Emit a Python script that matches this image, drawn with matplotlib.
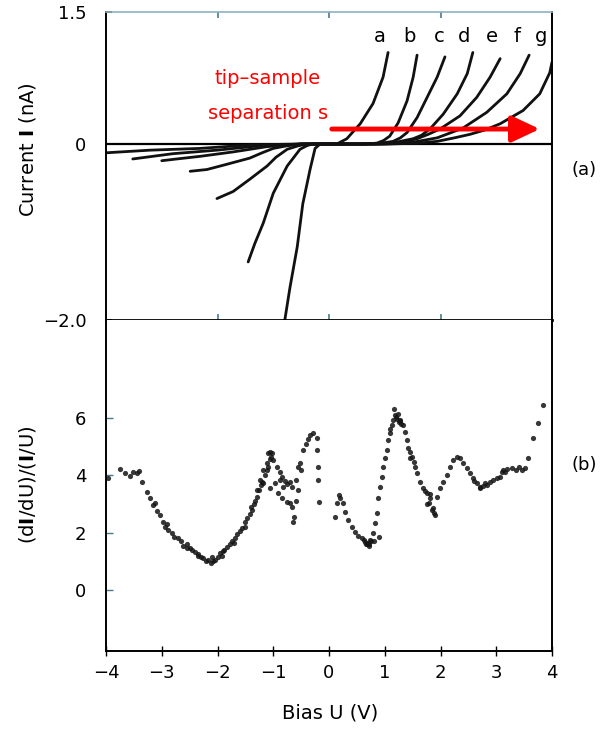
import matplotlib.pyplot as plt

# I-V curves a..g, tip-sample separation increasing from a to g
curve_labels = ['a', 'b', 'c', 'd', 'e', 'f', 'g']
curve_v = [
    [-0.80, -0.79, -0.70, -0.57, -0.47, -0.34, -0.25, -0.16, 0.14, 0.32, 0.56, 0.79, 0.97, 1.06],
    [-1.45, -1.33, -1.18, -1.00, -0.75, -0.52, -0.40, -0.30, 0.40, 0.65, 0.86, 0.98, 1.09, 1.24,
     1.40, 1.51, 1.58],
    [-2.01, -1.72, -1.42, -1.11, -0.95, -0.75, -0.55, -0.40, 0.60, 0.95, 1.15, 1.28, 1.40, 1.58,
     1.76, 1.94, 2.08],
    [-2.49, -2.19, -1.83, -1.42, -1.20, -1.00, -0.75, -0.50, 0.80, 1.20, 1.51, 1.66, 1.81, 2.05,
     2.30, 2.48, 2.58],
    [-3.00, -2.73, -2.31, -1.72, -1.11, -0.50, 0.90, 1.30, 1.58, 1.78, 1.99, 2.35, 2.65, 2.89,
     3.07],
    [-3.52, -2.80, -2.01, -1.24, -0.50, 1.00, 1.50, 1.94, 2.15, 2.40, 2.83, 3.19, 3.43, 3.59],
    [-4.00, -3.21, -2.31, -1.42, -0.50, 1.10, 1.60, 1.94, 2.25, 2.53, 2.80, 3.07, 3.48, 3.78,
     3.96, 4.00],
]
curve_i = [
    [-2.05, -1.99, -1.63, -1.17, -0.68, -0.29, -0.05, 0.00, 0.00, 0.06, 0.23, 0.46, 0.76, 1.04],
    [-1.34, -1.13, -0.90, -0.56, -0.25, -0.06, -0.02, 0.00, 0.00, 0.00, 0.01, 0.04, 0.09, 0.24,
     0.49, 0.76, 1.01],
    [-0.62, -0.54, -0.40, -0.25, -0.15, -0.06, -0.02, 0.00, 0.00, 0.01, 0.03, 0.07, 0.13, 0.30,
     0.53, 0.76, 0.99],
    [-0.31, -0.29, -0.23, -0.16, -0.10, -0.05, -0.02, 0.00, 0.00, 0.02, 0.06, 0.10, 0.17, 0.34,
     0.57, 0.80, 1.04],
    [-0.19, -0.17, -0.14, -0.09, -0.03, 0.00, 0.00, 0.02, 0.06, 0.11, 0.17, 0.32, 0.53, 0.76,
     0.97],
    [-0.17, -0.11, -0.07, -0.02, 0.00, 0.00, 0.02, 0.07, 0.12, 0.18, 0.36, 0.57, 0.80, 1.01],
    [-0.10, -0.07, -0.05, -0.01, 0.00, 0.00, 0.01, 0.03, 0.07, 0.11, 0.16, 0.23, 0.38, 0.57,
     0.81, 0.93],
]
label_v = [0.91, 1.44, 1.97, 2.43, 2.92, 3.37, 3.80]

# normalized conductance (dI/dU)/(I/U) vs bias
bias_u = [
    -3.96, -3.75, -3.66, -3.57, -3.52, -3.44, -3.40, -3.35,
    -3.26, -3.21, -3.16, -3.13, -3.08, -3.03, -2.98, -2.94, -2.90, -2.88,
    -2.82, -2.78, -2.71, -2.66, -2.62, -2.55, -2.50, -2.45, -2.40, -2.35,
    -2.30, -2.26, -2.20, -2.17, -2.12, -2.08, -2.04, -2.00, -1.96, -1.92,
    -1.88, -1.83, -1.78, -1.74, -1.69, -1.65, -1.60, -1.56, -1.51, -1.47,
    -1.42, -1.38, -1.35, -1.32, -1.29, -1.25, -1.22, -1.20, -1.15, -1.12,
    -1.09, -1.06, -1.04, -1.02,
    -2.10, -1.90, -1.70, -1.50, -1.40, -1.30, -2.35, -2.55,
    -1.18, -1.11, -1.09, -1.06, -1.00, -0.93, -0.88, -0.84, -0.79, -0.75,
    -0.70, -0.66, -0.65, -0.62,
    -1.24, -1.18, -1.06, -0.97, -0.91, -0.84, -0.75, -0.70, -0.66,
    -0.60, -0.55, -0.52, -0.50, -0.47, -0.42, -0.38, -0.34, -0.29, -0.22,
    -0.22, -0.20, -0.20, -0.18,
    -0.88, -0.82, -0.60, -0.56,
    0.11, 0.14, 0.18, 0.20, 0.25, 0.29, 0.34, 0.41, 0.47, 0.52,
    0.59, 0.65, 0.68, 0.70, 0.72, 0.74, 0.76, 0.79, 0.83, 0.86,
    0.88, 0.91, 0.95, 0.97, 1.00, 1.04, 1.06, 1.09, 1.13, 1.15,
    1.17, 1.20, 1.22, 1.25, 1.27, 1.30, 1.33, 1.36, 1.40, 1.42,
    1.46, 1.49, 1.54, 1.58, 1.63, 1.69, 1.72, 1.76, 1.81, 1.85,
    1.88, 1.90, 1.94, 1.99, 2.05, 2.12, 2.17, 2.22, 2.30, 2.35,
    2.40, 2.48, 2.53, 2.58, 2.65, 2.71, 2.77, 2.83, 2.89, 2.95,
    3.01, 3.06, 3.12, 3.20, 3.28, 3.36, 3.46, 3.52, 3.57, 3.66,
    3.75, 3.84,
    0.80, 0.90, 1.10, 1.18, 1.45, 1.75, 1.80, 2.70, 3.10,
    0.62, 0.66, 0.72, 1.23, 1.28, 1.52, 1.82, 1.87, 2.60, 2.80, 3.15, 3.40,
]
ratio = [
    3.90, 4.22, 4.08, 3.97, 4.11, 4.08, 4.15, 3.76,
    3.41, 3.21, 2.96, 3.05, 2.75, 2.61, 2.37, 2.20, 2.30, 2.10,
    1.99, 1.85, 1.81, 1.70, 1.55, 1.60, 1.45, 1.40, 1.32, 1.25,
    1.15, 1.11, 1.00, 1.05, 0.95, 1.00, 1.05, 1.15, 1.29, 1.20,
    1.40, 1.50, 1.60, 1.70, 1.81, 1.95, 2.05, 2.16, 2.37, 2.50,
    2.65, 2.79, 3.00, 3.10, 3.24, 3.50, 3.65, 3.76, 4.01, 4.20,
    4.29, 4.55, 4.63, 4.77,
    1.15, 1.35, 1.65, 2.20, 2.90, 3.50, 1.20, 1.45,
    4.18, 4.42, 4.77, 4.81, 4.53, 4.29, 4.11, 3.95, 3.80, 3.70,
    3.75, 3.60, 2.37, 2.55,
    3.83, 3.73, 3.55, 3.73, 3.38, 3.21, 3.07, 3.03, 2.90,
    3.10, 3.48, 4.42, 4.18, 4.88, 5.10, 5.25, 5.40, 5.47, 5.30,
    4.88, 4.29, 3.83, 3.07,
    3.83, 3.59, 3.83, 4.30,
    2.54, 3.03, 3.31, 3.20, 3.03, 2.72, 2.44, 2.20, 2.02, 1.90,
    1.81, 1.67, 1.60, 1.64, 1.55, 1.74, 1.70, 1.99, 2.33, 2.68,
    3.21, 3.59, 3.94, 4.29, 4.60, 4.88, 5.23, 5.47, 5.75, 5.92,
    6.31, 6.03, 5.95, 5.85, 5.92, 5.80, 5.75, 5.51, 5.23, 4.95,
    4.80, 4.63, 4.29, 4.08, 3.76, 3.55, 3.45, 3.38, 3.21, 2.79,
    2.70, 2.61, 3.24, 3.55, 3.76, 4.01, 4.29, 4.53, 4.63, 4.60,
    4.42, 4.25, 4.08, 3.90, 3.73, 3.59, 3.62, 3.66, 3.76, 3.85,
    3.90, 3.95, 4.18, 4.22, 4.25, 4.20, 4.18, 4.25, 4.60, 5.30,
    5.82, 6.45,
    1.70, 1.85, 5.60, 6.10, 4.60, 3.00, 3.05, 3.55, 4.10,
    1.75, 1.60, 1.62, 6.15, 5.90, 4.45, 3.35, 2.85, 3.80, 3.72, 4.12, 4.30,
]

plt.rcParams['font.family'] = 'DejaVu Sans'
plt.rcParams['mathtext.fontset'] = 'dejavusans'

fig = plt.figure(figsize=(6.16, 7.29), dpi=100)

# ---- panel (a): current vs bias ----
ax1 = fig.add_axes([106 / 616, 1 - 320 / 729, 446 / 616, 308 / 729])
ax1.axhline(0, color='black', lw=1.6, zorder=1)
for v, i in zip(curve_v, curve_i):
    ax1.plot(v, i, color='#111111', lw=2.0, solid_capstyle='round',
             solid_joinstyle='round', zorder=2)
for lab, v in zip(curve_labels, label_v):
    ax1.text(v, 1.22, lab, fontsize=14, ha='center', va='center')

ax1.text(-1.1, 0.74, 'tip–sample', color='red', fontsize=14, ha='center', va='center')
ax1.text(-1.1, 0.35, 'separation s', color='red', fontsize=14, ha='center', va='center')
ax1.annotate('', xy=(3.78, 0.17), xytext=(0.05, 0.17),
             arrowprops=dict(arrowstyle='-|>,head_length=1.7,head_width=0.8',
                             color='red', lw=3.5, shrinkA=0, shrinkB=0))

ax1.set_xlim(-4, 4)
ax1.set_ylim(-2.0, 1.5)
ax1.set_yticks([-2.0, 0, 1.5])
ax1.set_yticklabels(['−2.0', '0', '1.5'], fontsize=13)
ax1.set_xticks([-4, -2, 0, 2])
ax1.tick_params(axis='both', direction='in', length=4, width=1.2, pad=14)
ax1.tick_params(axis='x', top=True, labelbottom=False, color='#4a7a8a')
for side in ['left', 'right', 'bottom']:
    ax1.spines[side].set_linewidth(1.4)
ax1.spines['bottom'].set_linewidth(2.0)
ax1.spines['top'].set_color('#8fb3c0')
ax1.spines['top'].set_linewidth(1.2)

# ---- panel (b): normalized conductance ----
ax2 = fig.add_axes([106 / 616, 1 - 651 / 729, 446 / 616, 331 / 729])
ax2.scatter(bias_u, ratio, s=14, color='#141414', alpha=0.85, linewidths=0, zorder=2)
ax2.set_xlim(-4, 4)
ax2.set_ylim(-2.125, 9.41)
ax2.set_yticks([0, 2, 4, 6])
ax2.set_xticks(range(-4, 5))
ax2.set_xticklabels(['−4', '−3', '−2', '−1', '0', '1', '2', '3', '4'], fontsize=13)
ax2.tick_params(axis='y', direction='in', length=5, width=1.0, pad=14, labelsize=13,
                color='#4a7a8a')
ax2.tick_params(axis='x', direction='inout', length=7, width=1.0, pad=6)
ax2.spines['top'].set_visible(False)
for side in ['left', 'right', 'bottom']:
    ax2.spines[side].set_linewidth(1.4)

fig.text(28 / 616, 1 - 150 / 729, r'Current $\mathbf{I}$ (nA)', rotation=90,
         fontsize=14, ha='center', va='center')
fig.text(28 / 616, 1 - 485 / 729, r'(d$\mathbf{I}$/dU)/($\mathbf{I}$/U)', rotation=90,
         fontsize=14, ha='center', va='center')
fig.text(330 / 616, 1 - 713 / 729, 'Bias U (V)', fontsize=14, ha='center', va='center')
fig.text(584 / 616, 1 - 170 / 729, '(a)', fontsize=13, ha='center', va='center')
fig.text(584 / 616, 1 - 465 / 729, '(b)', fontsize=13, ha='center', va='center')

fig.savefig('out.png', dpi=100)
